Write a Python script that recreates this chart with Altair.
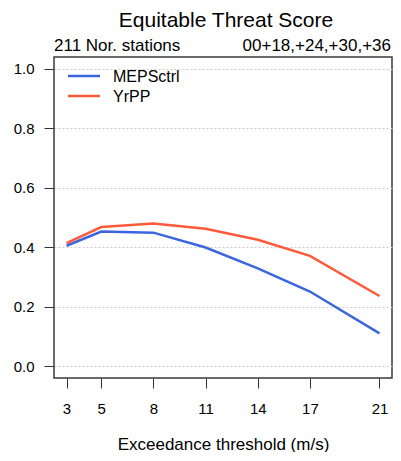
import altair as alt
import pandas as pd

# ---- data ----
thresholds = [3, 5, 8, 11, 14, 17, 21]
meps_ctrl = [0.405, 0.453, 0.449, 0.399, 0.329, 0.251, 0.110]
yr_pp = [0.414, 0.468, 0.480, 0.462, 0.425, 0.371, 0.236]
series_names = ["MEPSctrl", "YrPP"]
series_colors = ["#3b66e0", "#ff5b3b"]
y_ticks = [0.0, 0.2, 0.4, 0.6, 0.8, 1.0]
title_text = ["Equitable Threat Score"]
left_sub = ["211 Nor. stations"]
right_sub = ["00+18,+24,+30,+36"]
x_title = "Exceedance threshold (m/s)"

df = pd.DataFrame({
    "threshold": thresholds + thresholds,
    "ets": meps_ctrl + yr_pp,
    "model": [series_names[0]] * len(thresholds) + [series_names[1]] * len(thresholds),
})

W, H = 338, 321
FONT = "Liberation Sans"

lines = alt.Chart(df).mark_line(strokeWidth=2.5).encode(
    x=alt.X(
        "threshold:Q",
        scale=alt.Scale(domain=[2.28, 21.72], nice=False, zero=False),
        axis=alt.Axis(
            values=thresholds, title=x_title, grid=False, domain=False,
            tickSize=10, tickColor="#333333", labelFontSize=15, labelPadding=13,
            labelColor="black", labelFlush=False, format="d",
            titleFontSize=17, titleFontWeight="normal", titleColor="black",
            titleY=71, titleBaseline="alphabetic",
        ),
    ),
    y=alt.Y(
        "ets:Q",
        scale=alt.Scale(domain=[-0.04, 1.04], nice=False, zero=False),
        axis=alt.Axis(
            values=y_ticks, title=None, format=".1f", grid=True,
            gridColor="#cccccc", gridDash=[2, 2], gridWidth=1, domain=False,
            tickSize=10, tickColor="#333333", labelPadding=10, labelFontSize=15,
            labelColor="black",
        ),
    ),
    color=alt.Color(
        "model:N",
        scale=alt.Scale(domain=series_names, range=series_colors),
        legend=None,
    ),
)

layers = [lines]

# manual legend (line sample + label), one row per series
for i, (name, col) in enumerate(zip(series_names, series_colors)):
    row_y = 19 + 20 * i
    one = pd.DataFrame({"t": [name]})
    layers.append(
        alt.Chart(one).mark_rule(strokeWidth=2.5, color=col).encode(
            x=alt.value(14), x2=alt.value(46), y=alt.value(row_y)
        )
    )
    layers.append(
        alt.Chart(one).mark_text(
            align="left", baseline="middle", fontSize=16, color="black"
        ).encode(x=alt.value(59), y=alt.value(row_y + 1), text="t:N")
    )

layers.append(
    alt.Chart(pd.DataFrame({"t": title_text})).mark_text(
        align="center", baseline="alphabetic", fontSize=21, color="black"
    ).encode(x=alt.value(172), y=alt.value(-30), text="t:N")
)
layers.append(
    alt.Chart(pd.DataFrame({"t": left_sub})).mark_text(
        align="left", baseline="alphabetic", fontSize=17, color="black"
    ).encode(x=alt.value(0), y=alt.value(-6), text="t:N")
)
layers.append(
    alt.Chart(pd.DataFrame({"t": right_sub})).mark_text(
        align="right", baseline="alphabetic", fontSize=17, color="black"
    ).encode(x=alt.value(W - 1), y=alt.value(-6), text="t:N")
)

chart = alt.layer(*layers).properties(
    width=W, height=H,
    autosize=alt.AutoSizeParams(type="none"),
    padding={"left": 46, "top": 49, "right": 1, "bottom": 74},
).configure(font=FONT).configure_view(
    stroke="#3a3a3a", strokeWidth=1.5
)

chart.save("out.html", embed_options={"renderer": "svg", "actions": False})
